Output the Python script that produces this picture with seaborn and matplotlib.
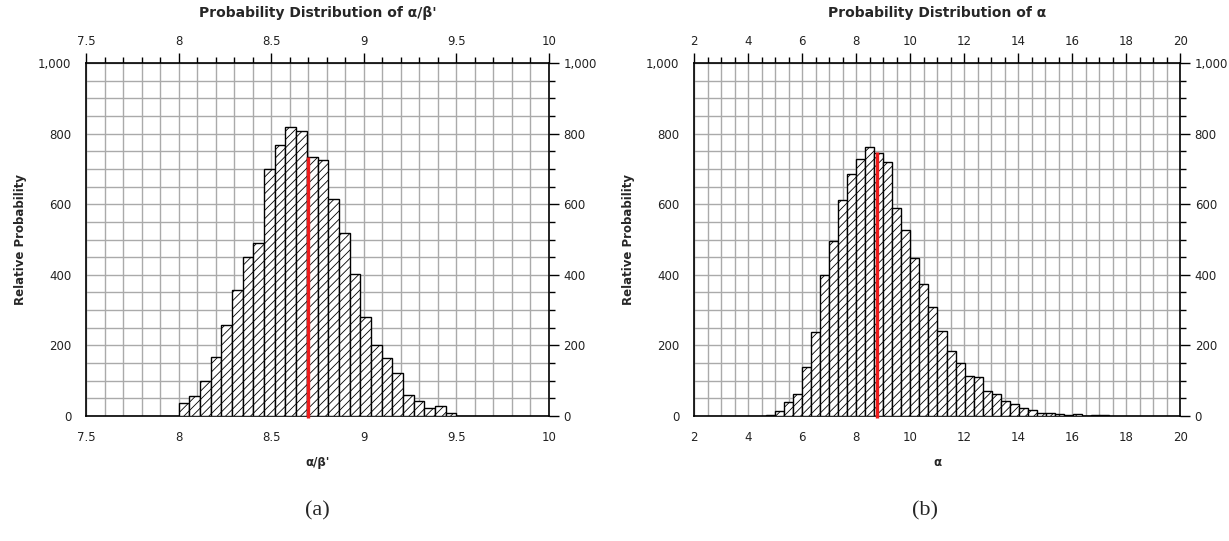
import matplotlib
matplotlib.use("Agg")
import matplotlib.pyplot as plt
import numpy as np
import pandas as pd
import seaborn as sns
from matplotlib.ticker import MultipleLocator, StrMethodFormatter

# panel (a): alpha/beta' histogram, 26 bins from 8.0 to 9.5
a_bin_start = 8.0
a_bin_width = 1.5 / 26
a_heights = [37, 57, 98, 167, 257, 357, 450, 490, 700, 768, 818, 808, 735,
             725, 615, 518, 403, 280, 200, 164, 121, 60, 43, 24, 27, 9]
a_marker_x = 8.70
a_marker_h = 735

# panel (b): alpha histogram
b_bin_start = 4.68
b_bin_width = 0.3335
b_heights = [3, 13, 40, 62, 140, 237, 400, 497, 612, 685, 728, 762, 746,
             720, 590, 528, 448, 374, 310, 240, 184, 149, 114, 110, 70, 63,
             43, 33, 22, 16, 8, 9, 5, 2, 6, 0, 2, 2]
b_marker_x = 8.77
b_marker_h = 748

sns.set_style("white")
plt.rcParams['font.family'] = ['DejaVu Sans']
plt.rcParams['hatch.linewidth'] = 0.6

fig = plt.figure(figsize=(12.29, 5.41), dpi=100)
axA = fig.add_axes([0.070, 0.231, 0.3767, 0.6525])
axB = fig.add_axes([0.5647, 0.231, 0.3955, 0.6525])


def draw(ax, start, width, heights, mx, mh, xlim, xmaj, xmin, title, xlabel):
    n = len(heights)
    edges = [start + width * i for i in range(n + 1)]
    df = pd.DataFrame({"x": [(edges[i] + edges[i + 1]) / 2 for i in range(n)],
                       "count": heights})
    sns.histplot(data=df, x="x", weights="count", bins=edges, ax=ax,
                 color="white", edgecolor="black", linewidth=1.0, alpha=1,
                 zorder=3)
    for p in ax.patches:
        p.set_hatch("////")
        p.set_facecolor("white")
    ax.plot([mx, mx], [-6, mh], color="#ee1c1c", lw=2.4, zorder=5,
            solid_capstyle="butt", clip_on=False)
    ax.set_xlim(*xlim)
    ax.set_ylim(0, 1000)
    ax.xaxis.set_major_locator(MultipleLocator(xmaj))
    ax.xaxis.set_minor_locator(MultipleLocator(xmin))
    ax.yaxis.set_major_locator(MultipleLocator(200))
    ax.yaxis.set_minor_locator(MultipleLocator(50))
    ax.xaxis.set_major_formatter(StrMethodFormatter("{x:g}"))
    ax.yaxis.set_major_formatter(StrMethodFormatter("{x:,.0f}"))
    ax.grid(which="both", color="#aaaaaa", lw=1.0, zorder=0)
    ax.set_axisbelow(True)
    ax.tick_params(which="both", direction="out", top=True, right=True,
                   labeltop=True, labelright=True, labelsize=8.5,
                   color="black", labelcolor="#222222")
    ax.tick_params(which="major", length=7, width=1.0)
    ax.tick_params(which="minor", length=4.5, width=1.0)
    for s in ax.spines.values():
        s.set_color("black")
        s.set_linewidth(1.2)
    ax.set_title(title, fontsize=10, fontweight="bold", pad=13)
    ax.set_xlabel(xlabel, fontsize=8.5, fontweight="bold", labelpad=9)
    ax.set_ylabel("Relative Probability", fontsize=8.5, fontweight="bold",
                  labelpad=8)


draw(axA, a_bin_start, a_bin_width, a_heights, a_marker_x, a_marker_h,
     (7.5, 10), 0.5, 0.1, "Probability Distribution of α/β'", "α/β'")
draw(axB, b_bin_start, b_bin_width, b_heights, b_marker_x, b_marker_h,
     (2, 20), 2, 0.5, "Probability Distribution of α", "α")

fig.text(0.2585, 0.048, "(a)", fontsize=16, family="Liberation Serif",
         ha="center")
fig.text(0.7525, 0.048, "(b)", fontsize=16, family="Liberation Serif",
         ha="center")

fig.savefig("out.png", dpi=100)
